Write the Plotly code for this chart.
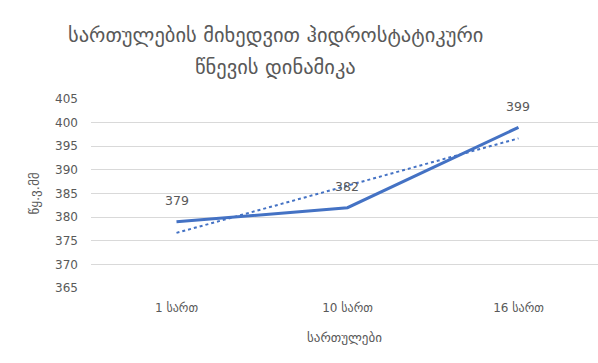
import numpy as np
import plotly.graph_objects as go

categories = ["1 სართ", "10 სართ", "16 სართ"]
pressure = [379, 382, 399]
y_ticks = [365, 370, 375, 380, 385, 390, 395, 400, 405]

title_lines = ["სართულების მიხედვით ჰიდროსტატიკური", "წნევის დინამიკა"]
x_title = "სართულები"
y_title = "წყ.ვ.მმ"

grey = "#595959"
blue = "#4472C4"
font_family = "DejaVu Sans"

idx = np.arange(len(categories))
slope, intercept = np.polyfit(idx, pressure, 1)
trend = slope * idx + intercept

fig = go.Figure()
fig.add_trace(go.Scatter(
    x=categories, y=trend.tolist(), mode="lines",
    line=dict(color=blue, width=2, dash="dot"),
    hoverinfo="skip", showlegend=False,
))
fig.add_trace(go.Scatter(
    x=categories, y=pressure, mode="lines",
    line=dict(color=blue, width=3),
    showlegend=False,
))

for c, v in zip(categories, pressure):
    fig.add_annotation(
        x=c, y=v, text=str(v), showarrow=False, yshift=21,
        font=dict(family=font_family, size=12.5, color=grey),
    )

# two-line chart title, placed in pixel rows from the top of the page
for line, top_px in zip(title_lines, [35, 67]):
    fig.add_annotation(
        xref="paper", yref="paper", x=(275 - 91) / 507, y=1 + (99 - top_px) / 189,
        xanchor="center", yanchor="middle", showarrow=False, text=line,
        font=dict(family=font_family, size=20.5, color=grey),
    )

fig.update_layout(
    width=598, height=363,
    margin=dict(l=91, r=0, t=99, b=75),
    paper_bgcolor="white", plot_bgcolor="white",
    font=dict(family=font_family, color=grey),
)
fig.update_xaxes(
    type="category", range=[-0.5, 2.465],
    showgrid=False, showline=False, zeroline=False,
    tickfont=dict(size=12, color=grey), ticks="", ticklabelstandoff=11,
    title=dict(text=x_title, font=dict(size=13, color=grey), standoff=18),
)
fig.update_yaxes(
    range=[365, 405], tickvals=y_ticks,
    showgrid=True, gridcolor="#d9d9d9", gridwidth=1,
    zeroline=False, showline=False, ticks="", ticklabelstandoff=12,
    tickfont=dict(size=12, color=grey),
    title=dict(text=y_title, font=dict(size=13, color=grey), standoff=12),
)

fig.write_html("out.html")
